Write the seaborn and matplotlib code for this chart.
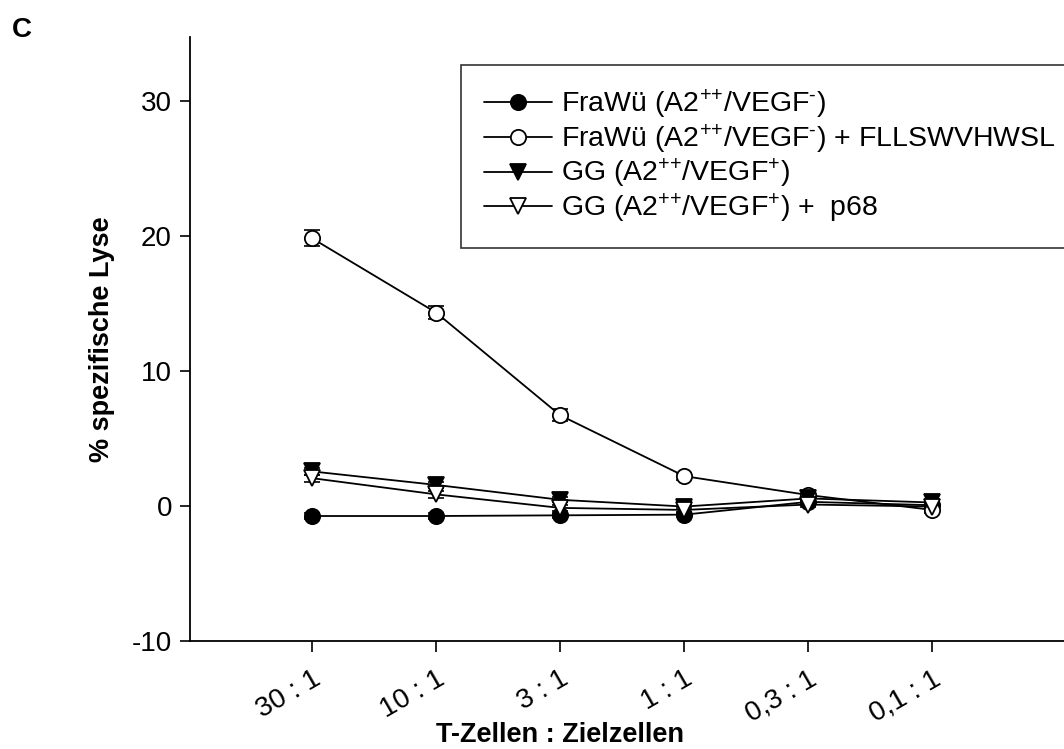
import numpy as np
import pandas as pd
import seaborn as sns
import matplotlib.pyplot as plt

ratios = ["30 : 1", "10 : 1", "3 : 1", "1 : 1", "0,3 : 1", "0,1 : 1"]

frawu = [-0.75, -0.75, -0.7, -0.65, 0.3, 0.05]
frawu_err = [0.2, 0.2, 0.2, 0.2, 0.2, 0.2]
frawu_pep = [19.8, 14.3, 6.7, 2.2, 0.8, -0.3]
frawu_pep_err = [0.6, 0.5, 0.45, 0.25, 0.3, 0.25]
gg = [2.55, 1.55, 0.45, -0.05, 0.55, 0.25]
gg_err = [0.25, 0.25, 0.2, 0.2, 0.2, 0.2]
gg_pep = [2.05, 0.85, -0.15, -0.3, 0.1, -0.05]
gg_pep_err = [0.25, 0.25, 0.2, 0.2, 0.2, 0.2]

labels = [
    r"FraWü (A2$^{\text{++}}$/VEGF$^{\text{-}}$)",
    r"FraWü (A2$^{\text{++}}$/VEGF$^{\text{-}}$) + FLLSWVHWSL",
    r"GG (A2$^{\text{++}}$/VEGF$^{\text{+}}$)",
    r"GG (A2$^{\text{++}}$/VEGF$^{\text{+}}$) +  p68",
]

sns.set_style("ticks")
plt.rcParams['font.family'] = ['Liberation Sans', 'DejaVu Sans']
plt.rcParams['mathtext.fontset'] = 'custom'
plt.rcParams['mathtext.rm'] = 'Liberation Sans'
plt.rcParams['mathtext.it'] = 'Liberation Sans'
plt.rcParams['axes.unicode_minus'] = False
for key in ['text.color', 'axes.labelcolor', 'xtick.color', 'ytick.color']:
    plt.rcParams[key] = 'black'

fig = plt.figure(figsize=(10.64, 7.49), dpi=100)
ax = fig.add_axes([0.1786, 0.1442, 0.8214, 0.8064])

pos = np.arange(len(ratios))
series = [
    (frawu, frawu_err, "o", "black"),
    (frawu_pep, frawu_pep_err, "o", "white"),
    (gg, gg_err, "v", "black"),
    (gg_pep, gg_pep_err, "v", "white"),
]
for (vals, err, m, fc), lab in zip(series, labels):
    df = pd.DataFrame({"x": pos, "y": vals})
    ax.errorbar(pos, vals, yerr=err, fmt="none", ecolor="black",
                elinewidth=1.2, capsize=6, capthick=1.2, zorder=2)
    sns.lineplot(data=df, x="x", y="y", ax=ax, color="black", lw=1.3,
                 marker=m, markersize=11, markerfacecolor=fc,
                 markeredgecolor="black", markeredgewidth=1.3,
                 label=lab, zorder=3)

ax.set_xlim(-0.984, 6.06)
ax.set_ylim(-10, 34.7)
ax.set_yticks([-10, 0, 10, 20, 30])
ax.set_xticks(pos)
ax.set_xticklabels(ratios, rotation=30, ha="right", rotation_mode="anchor")
ax.tick_params(axis="both", labelsize=20, direction="out", width=1.2,
               color="black", labelcolor="black")
ax.tick_params(axis="x", length=8, pad=10)
ax.tick_params(axis="y", length=7, pad=6)
for s in ["left", "bottom"]:
    ax.spines[s].set_linewidth(1.3)
    ax.spines[s].set_color("black")
sns.despine(ax=ax)

ax.set_xlabel("T-Zellen : Zielzellen", fontsize=19.5, fontweight="bold", va="center")
ax.xaxis.set_label_coords(0.423, -0.156)
ax.set_ylabel("% spezifische Lyse", fontsize=19.5, fontweight="bold", labelpad=12)

leg = ax.legend(loc="upper left", bbox_to_anchor=(0.31, 0.954), fontsize=20.5,
                frameon=True, fancybox=False, edgecolor="black",
                handlelength=2.4, handletextpad=0.3, labelspacing=0.05,
                borderpad=0.8, borderaxespad=0)
leg.get_frame().set_linewidth(1.2)
for t in leg.get_texts():
    t.set_color("black")

fig.text(0.011, 0.951, "C", fontsize=20, fontweight="bold", va="baseline",
         color="black")

fig.savefig("out.png", dpi=100)
